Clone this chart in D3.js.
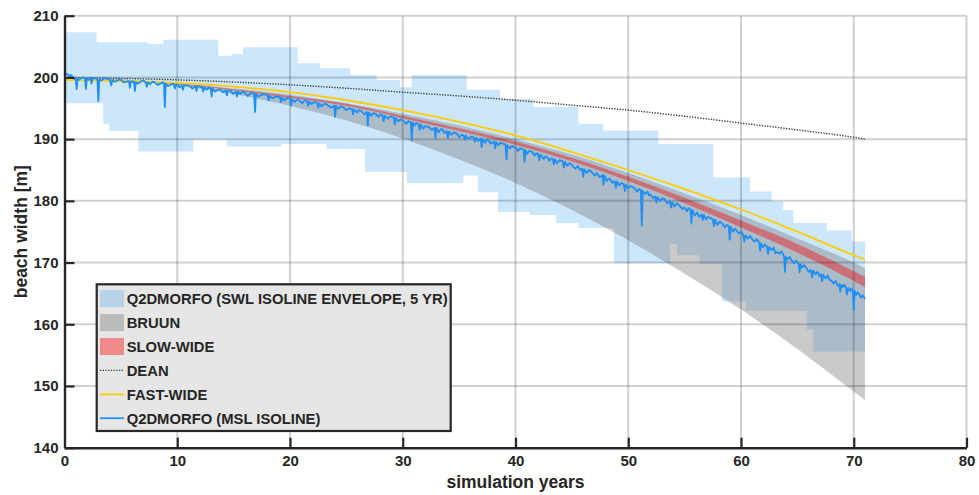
<!DOCTYPE html>
<html><head><meta charset="utf-8">
<script src="https://cdn.jsdelivr.net/npm/d3@7"></script>
<style>
body{margin:0;background:#fff;}
svg{display:block;}
text{font-family:"Liberation Sans",Arial,Helvetica,sans-serif;font-weight:bold;fill:#262626;}
</style>
</head><body>
<svg id="chart" width="979" height="495"></svg>
<script>
// ---------------- DATA ----------------
const xTicks = [0,10,20,30,40,50,60,70,80];
const yTicks = [140,150,160,170,180,190,200,210];

// Q2DMORFO SWL isoline envelope (5 yr windows): [start year, value], steps hold until next start; ends at year 71
const envEnd = 71;
const envUpper = [[0,207.3],[2.84,205.7],[7.43,205.4],[8.76,206.1],[13.64,203.5],[14.83,203.8],[15.83,204.9],[20.68,202.3],[22.66,201.5],[25.32,200.4],[27.69,199.6],[29.76,198.4],[30.79,200.4],[35.67,198.0],[38.63,196.5],[41.58,195.2],[45.57,192.5],[47.79,191.4],[52.67,189.2],[57.54,183.8],[60.8,181.5],[62.72,179.9],[63.75,178.5],[64.64,176.4],[67.6,175.2],[69.82,173.4]];
const envLower = [[0,195.8],[3.44,192.4],[3.97,191.3],[6.55,188.0],[11.42,189.9],[14.39,188.8],[19.26,189.2],[23.25,188.4],[26.65,184.7],[30.35,182.9],[35.37,184.1],[36.67,181.4],[38.45,178.2],[41.29,177.7],[43.59,176.4],[45.57,175.6],[48.74,169.9],[53.7,173.0],[54.32,171.2],[56.3,169.8],[58.31,163.7],[60.44,162.2],[65.83,159.1],[66.41,155.6]];

// model curves
const modelYears = [0,5,10,15,20,25,30,35,40,45,50,55,60,65,70,71];
const bruunUpper = [200,199.7,199.0,198.2,197.2,195.8,194.1,192.2,190.0,187.5,184.5,181.2,177.7,173.9,170.0,169.1];
const bruunLower = [200,199.6,198.7,197.3,195.4,193.0,190.1,186.7,182.9,178.5,173.6,168.2,162.4,156.0,149.1,147.7];
const slowWideTop = [200,199.6,199.0,198.1,197.0,195.75,193.8,191.75,189.6,187.0,183.9,180.5,176.8,173.0,168.6,167.7];
const slowWideBottom = [200,199.5,198.9,197.9,196.7,195.4,193.4,191.3,189.1,186.4,183.2,179.6,175.7,171.6,167.0,166.0];
const dean = [200,199.85,199.6,199.25,198.8,198.25,197.6,197.0,196.3,195.5,194.7,193.7,192.6,191.5,190.3,190.0];
const fastWide = [199.6,199.4,199.1,198.5,197.6,196.3,194.7,192.8,190.6,187.9,185.0,181.9,178.6,175.0,171.2,170.5];

// Q2DMORFO MSL isoline: [year, beach width] (main trace with spikes)
const msl = [[0,200.6],[0.3,200.5],[0.6,200.4],[0.8,199.8],[1.0,199.7],[1.08,198.1],[1.16,199.8],[1.5,199.9],[1.82,199.8],[1.9,198.1],[1.98,199.8],[2.3,199.9],[2.4,199.0],[2.5,199.8],[2.92,199.7],[3.0,196.2],[3.08,199.6],[3.5,199.9],[4.0,199.7],[4.15,198.7],[4.25,199.6],[4.7,199.5],[5.0,199.6],[5.5,199.3],[5.72,199.4],[5.8,198.3],[5.88,199.3],[6.17,199.3],[6.25,197.8],[6.33,199.2],[6.8,199.4],[7.2,199.2],[7.3,198.5],[7.4,199.2],[8.0,199.2],[8.5,199.0],[8.82,199.1],[8.9,195.2],[8.98,199.0],[9.5,198.9],[9.8,198.2],[9.9,198.9],[10.4,198.7],[10.5,198.0],[10.6,198.7],[11.1,198.6],[11.62,198.6],[11.7,197.8],[11.78,198.5],[12.2,198.4],[12.3,197.7],[12.4,198.4],[12.97,198.2],[13.05,196.9],[13.13,198.2],[13.6,198.0],[14.3,197.9],[14.4,197.1],[14.5,197.8],[15.2,197.7],[15.3,196.9],[15.4,197.7],[16.0,197.5],[16.5,197.4],[16.82,197.3],[16.9,194.4],[16.98,197.3],[17.5,197.2],[18.0,197.1],[18.1,196.3],[18.2,197.0],[19.1,196.8],[19.2,196.0],[19.3,196.7],[20.02,196.5],[20.1,195.4],[20.18,196.5],[20.8,196.3],[21.5,196.2],[21.6,195.4],[21.7,196.1],[22.4,195.9],[22.5,195.1],[22.6,195.8],[23.3,195.6],[23.92,195.4],[24.0,193.6],[24.08,195.4],[24.7,195.2],[25.5,194.9],[25.6,194.0],[25.7,194.8],[26.3,194.6],[26.82,194.4],[26.9,192.2],[26.98,194.3],[27.6,194.1],[28.2,193.9],[28.3,192.9],[28.4,193.8],[29.2,193.5],[29.3,192.4],[29.4,193.4],[30.0,193.0],[30.72,192.7],[30.8,189.8],[30.88,192.7],[31.4,192.4],[31.5,191.5],[31.6,192.4],[32.3,192.0],[32.82,191.8],[32.9,190.1],[32.98,191.8],[33.5,191.6],[33.9,191.3],[34.0,190.2],[34.1,191.2],[34.8,190.9],[35.4,190.6],[35.5,189.9],[35.6,190.6],[36.3,190.3],[36.4,189.6],[36.5,190.2],[36.92,190.1],[37.0,188.7],[37.08,190.0],[37.6,189.8],[38.1,189.6],[38.2,188.5],[38.3,189.5],[38.8,189.3],[39.12,189.1],[39.2,186.7],[39.28,189.0],[40.0,188.6],[40.72,188.3],[40.8,186.3],[40.88,188.2],[41.5,187.9],[42.0,187.6],[42.1,186.6],[42.2,187.5],[42.8,187.1],[43.3,186.8],[43.4,185.9],[43.5,186.7],[44.2,186.4],[44.3,185.4],[44.4,186.3],[45.0,185.8],[45.92,185.2],[46.0,183.9],[46.08,185.1],[46.8,184.6],[47.72,184.2],[47.8,182.6],[47.88,184.1],[48.4,183.5],[48.8,183.2],[48.9,182.1],[49.0,183.1],[49.6,182.7],[49.7,181.6],[49.8,182.6],[50.5,182.1],[51.12,181.7],[51.2,176.0],[51.28,181.6],[52.0,181.0],[52.4,180.7],[52.5,179.7],[52.6,180.6],[53.2,180.3],[53.7,179.9],[53.8,178.9],[53.9,179.8],[54.5,179.3],[55.0,178.9],[55.52,178.6],[55.6,176.3],[55.68,178.5],[56.5,177.8],[56.6,176.9],[56.7,177.7],[57.2,177.3],[57.5,177.0],[57.6,175.9],[57.7,176.9],[58.3,176.4],[58.92,175.9],[59.0,173.7],[59.08,175.8],[59.6,175.2],[60.2,174.5],[60.3,173.4],[60.4,174.4],[61.0,173.8],[61.62,173.2],[61.7,171.9],[61.78,173.1],[62.3,172.6],[62.4,171.4],[62.5,172.5],[63.2,171.7],[63.82,171.0],[63.9,168.5],[63.98,170.9],[64.5,170.3],[65.12,169.8],[65.2,168.4],[65.28,169.7],[65.8,169.1],[66.2,168.8],[66.3,167.6],[66.4,168.7],[67.1,168.1],[67.2,167.0],[67.3,168.0],[68.0,167.1],[68.72,166.5],[68.8,165.3],[68.88,166.4],[69.3,166.0],[69.4,164.8],[69.5,165.9],[69.92,165.5],[70.0,162.3],[70.08,165.4],[70.5,164.8],[71.0,164.1]];
// small-amplitude wiggles of the same trace, read between the points above
const mslWiggles = [[0.45,200.2],[1.3,199.6],[1.65,200.0],[2.15,199.6],[2.7,199.9],[3.3,199.5],[3.75,199.8],[4.45,199.3],[4.85,199.7],[5.25,199.2],[6.55,199.0],[7.0,199.5],[7.6,198.9],[7.8,199.3],[8.25,198.8],[8.7,199.2],[9.2,198.6],[9.65,199.0],[10.2,198.4],[10.85,198.7],[11.35,198.2],[11.9,198.6],[12.6,198.0],[12.8,198.4],[13.35,197.7],[13.8,198.1],[14.05,197.6],[14.7,197.9],[14.95,197.3],[15.6,197.3],[15.8,197.7],[16.25,197.0],[16.7,197.5],[17.2,196.9],[17.75,197.3],[18.45,196.6],[18.75,196.9],[19.5,196.3],[19.75,196.7],[20.4,196.0],[20.6,196.4],[21.1,195.8],[21.3,196.3],[21.9,195.7],[22.15,196.0],[22.8,195.3],[23.05,195.7],[23.6,195.1],[24.3,194.9],[24.5,195.3],[25.0,194.7],[25.25,195.0],[25.95,194.3],[26.1,194.7],[26.6,194.0],[27.2,193.8],[27.4,194.2],[27.85,193.6],[28.0,194.0],[28.7,193.3],[28.9,193.7],[29.6,192.9],[29.8,193.2],[30.3,192.5],[30.5,192.9],[31.0,192.2],[31.2,192.6],[31.8,191.7],[32.0,192.1],[32.55,191.5],[33.2,191.1],[33.35,191.6],[33.7,191.0],[34.3,190.7],[34.5,191.1],[35.0,190.3],[35.2,190.7],[35.8,190.0],[36.05,190.4],[36.7,189.7],[37.3,189.4],[37.45,189.9],[37.8,189.3],[38.5,189.0],[38.65,189.4],[39.5,188.5],[39.7,188.9],[40.2,188.1],[40.4,188.5],[41.0,187.6],[41.2,188.1],[41.7,187.3],[41.85,187.7],[42.5,186.8],[42.65,187.2],[43.0,186.5],[43.15,186.9],[43.7,186.1],[43.9,186.6],[44.6,185.7],[44.8,186.1],[45.3,185.2],[45.5,185.6],[45.75,185.0],[46.3,184.5],[46.5,185.0],[47.0,184.1],[47.2,184.5],[47.5,183.8],[48.1,183.2],[48.25,183.6],[48.6,182.9],[49.2,182.5],[49.4,182.9],[50.0,182.0],[50.2,182.4],[50.8,181.5],[50.95,181.9],[51.5,181.1],[51.7,181.5],[51.85,180.9],[52.2,180.4],[52.8,180.0],[53.0,180.4],[53.45,179.6],[54.1,179.1],[54.3,179.6],[54.8,178.7],[55.2,178.3],[55.35,178.8],[55.9,177.6],[56.1,178.1],[56.3,177.4],[56.9,177.0],[57.05,177.4],[57.9,176.1],[58.1,176.6],[58.55,175.7],[58.75,176.1],[59.3,175.0],[59.45,175.5],[59.8,174.7],[60.0,175.0],[60.6,173.9],[60.8,174.3],[61.2,173.4],[61.4,173.8],[61.95,172.5],[62.1,172.9],[62.7,172.0],[62.9,172.4],[63.05,171.5],[63.4,171.4],[63.6,171.8],[64.1,170.5],[64.3,170.9],[64.7,169.9],[64.9,170.3],[65.4,169.2],[65.6,169.6],[66.0,168.5],[66.6,168.1],[66.8,168.5],[66.95,167.8],[67.5,167.4],[67.7,167.9],[67.85,167.2],[68.2,166.6],[68.4,167.0],[68.55,166.3],[69.0,166.0],[69.15,166.4],[69.7,165.4],[69.8,165.8],[70.2,164.7],[70.35,165.2],[70.65,164.3],[70.8,164.7]];

const legendLabels = ["Q2DMORFO (SWL ISOLINE ENVELOPE, 5 YR)","BRUUN","SLOW-WIDE","DEAN","FAST-WIDE","Q2DMORFO (MSL ISOLINE)"];

// ---------------- DRAWING ----------------
const svg = d3.select("#chart");
const x = d3.scaleLinear().domain([0,80]).range([64.5,966.5]);
const y = d3.scaleLinear().domain([140,210]).range([447.7,15.7]);

const C = {
  env:"rgb(0,128,240)", envA:0.2,
  bruun:"#7a7a7a", bruunA:0.4,
  slow:"#ff0000", slowA:0.4,
  dean:"#3a3a3a", fast:"#ffcc00", msl:"#1e8ff5", ink:"#262626"
};

// envelope polygon from step vertices
function stepVerts(pairs, end){
  const v=[];
  pairs.forEach((p,i)=>{ const nx = i<pairs.length-1 ? pairs[i+1][0] : end; v.push([p[0],p[1]],[nx,p[1]]); });
  return v;
}
const envPoly = stepVerts(envUpper, envEnd).concat(stepVerts(envLower, envEnd).reverse());
const lineXY = d3.line().x(d=>x(d[0])).y(d=>y(d[1]));
svg.append("path").attr("d", lineXY(envPoly)+"Z")
  .attr("fill",C.env).attr("fill-opacity",C.envA);

// Bruun and slow-wide bands
const band = (lo,hi)=>d3.area()
  .x((d,i)=>x(modelYears[i])).y0((d,i)=>y(lo[i])).y1((d,i)=>y(hi[i]))
  .curve(d3.curveMonotoneX)(modelYears);
svg.append("path").attr("d", band(bruunLower,bruunUpper)).attr("fill",C.bruun).attr("fill-opacity",C.bruunA);
svg.append("path").attr("d", band(slowWideBottom,slowWideTop)).attr("fill",C.slow).attr("fill-opacity",C.slowA);

// grid (on top of patches)
const grid = svg.append("g").attr("stroke","rgba(0,0,0,0.18)").attr("stroke-width",2);
xTicks.filter(t=>t>0).forEach(t=>grid.append("line").attr("x1",x(t)).attr("x2",x(t)).attr("y1",y(140)).attr("y2",y(210)));
yTicks.filter(t=>t>140).forEach(t=>grid.append("line").attr("x1",x(0)).attr("x2",x(80)).attr("y1",y(t)).attr("y2",y(t)));

// curves
const curve = vals => d3.line().x((d,i)=>x(modelYears[i])).y((d,i)=>y(vals[i])).curve(d3.curveMonotoneX)(modelYears);
svg.append("path").attr("d", curve(dean)).attr("fill","none").attr("stroke",C.dean).attr("stroke-width",1.4).attr("stroke-dasharray","1.3,1.4");
svg.append("path").attr("d", curve(fastWide)).attr("fill","none").attr("stroke",C.fast).attr("stroke-width",1.8);
const mslAll = d3.sort(msl.concat(mslWiggles), d=>d[0]);
svg.append("path").attr("d", lineXY(mslAll)).attr("fill","none").attr("stroke",C.msl).attr("stroke-width",1.8).attr("stroke-linejoin","round");

// axes
const xa = svg.append("g").attr("transform",`translate(0,${y(140)})`)
  .call(d3.axisBottom(x).tickValues(xTicks).tickSizeInner(-10).tickSizeOuter(0).tickPadding(8));
const ya = svg.append("g").attr("transform",`translate(${x(0)},0)`)
  .call(d3.axisLeft(y).tickValues(yTicks).tickSizeInner(-10).tickSizeOuter(0).tickPadding(6));
[xa,ya].forEach(g=>{
  g.select(".domain").attr("stroke",C.ink).attr("stroke-width",2.4);
  g.selectAll(".tick line").attr("stroke",C.ink).attr("stroke-width",2.2);
  g.selectAll(".tick text").attr("fill",C.ink).style("font-size","15px").style("font-family",'"Liberation Sans",Arial,sans-serif').style("font-weight","bold");
});
xa.selectAll(".tick").filter(d=>d===0).select("line").remove();

// axis labels
svg.append("text").attr("x",(x(0)+x(80))/2).attr("y",488).attr("text-anchor","middle").style("font-size","17.5px").text("simulation years");
svg.append("text").attr("transform",`translate(27,${(y(140)+y(210))/2}) rotate(-90)`).attr("text-anchor","middle").style("font-size","17.5px").text("beach width [m]");

// legend
const lg = svg.append("g");
lg.append("rect").attr("x",96.7).attr("y",284.3).attr("width",354).attr("height",146.7)
  .attr("fill","#e6e6e6").attr("stroke",C.ink).attr("stroke-width",2.2);
legendLabels.forEach((lab,i)=>{
  const cy = 298.7 + i*23.9;
  if(i<3){
    const col=[C.env,C.bruun,C.slow][i], a=[C.envA,C.bruunA,C.slowA][i];
    lg.append("rect").attr("x",100).attr("y",cy-8.5).attr("width",24).attr("height",17).attr("fill",col).attr("fill-opacity",a);
  } else {
    const ln = lg.append("line").attr("x1",100).attr("x2",124).attr("y1",cy).attr("y2",cy);
    if(i===3) ln.attr("stroke",C.dean).attr("stroke-width",1.4).attr("stroke-dasharray","1.3,1.4");
    if(i===4) ln.attr("stroke",C.fast).attr("stroke-width",1.8);
    if(i===5) ln.attr("stroke",C.msl).attr("stroke-width",1.8);
  }
  lg.append("text").attr("x",126.7).attr("y",cy).attr("dy","0.36em").style("font-size","14.8px").text(lab);
});
</script>
</body></html>
